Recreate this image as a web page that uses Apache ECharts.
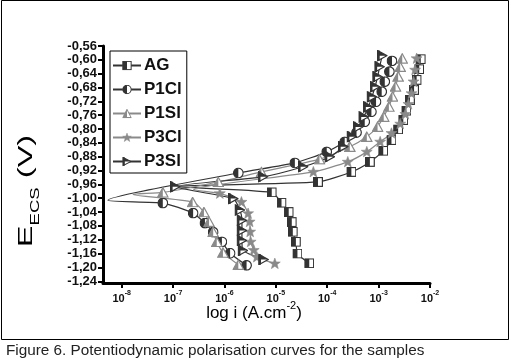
<!DOCTYPE html>
<html>
<head>
<meta charset="utf-8">
<script src="https://cdn.jsdelivr.net/npm/echarts@6/dist/echarts.min.js"></script>
<style>
  html, body { margin: 0; padding: 0; background: #fff; }
  #chart { width: 511px; height: 364px; }
</style>
</head>
<body>
<div id="chart"></div>
<script>
// log10(i) on x, E (V vs ECS) on y; cathodic branch bottom→top, then tip, then anodic bottom→top
const xTicks = [-8, -7, -6, -5, -4, -3, -2]
const yTicks = [-0.56, -0.60, -0.64, -0.68, -0.72, -0.76, -0.80, -0.84, -0.88, -0.92, -0.96,
  -1.00, -1.04, -1.08, -1.12, -1.16, -1.20, -1.24]

const agCath = [[-4.35, -1.188], [-4.58, -1.160], [-4.61, -1.126], [-4.67, -1.097], [-4.69, -1.069], [-4.75, -1.040], [-4.89, -1.013], [-5.08, -0.983]]
const agTip = [-7.0, -0.966]
const agAnod = [[-4.18, -0.953], [-3.53, -0.924], [-3.17, -0.895], [-2.91, -0.863], [-2.75, -0.832], [-2.62, -0.801], [-2.52, -0.774], [-2.46, -0.747], [-2.39, -0.716], [-2.31, -0.687], [-2.26, -0.658], [-2.21, -0.627], [-2.18, -0.598]]

const p1clCath = [[-5.57, -1.194], [-5.89, -1.159], [-6.05, -1.126], [-6.22, -1.098], [-6.38, -1.072], [-6.61, -1.043], [-7.20, -1.014]]
const p1clTip = [-8.27, -1.006]
const p1clAnod = [[-5.73, -0.927], [-4.63, -0.898], [-4.01, -0.866], [-3.66, -0.837], [-3.43, -0.810], [-3.27, -0.779], [-3.14, -0.750], [-3.05, -0.721], [-2.94, -0.692], [-2.88, -0.663], [-2.79, -0.634], [-2.74, -0.603]]

const p1slCath = [[-5.73, -1.192], [-6.03, -1.157], [-6.15, -1.126], [-6.22, -1.097], [-6.30, -1.068], [-6.40, -1.040], [-6.62, -1.011]]
const p1slTip = [-7.78, -0.989]
const p1slAnod = [[-7.20, -0.983], [-6.12, -0.953], [-5.28, -0.924], [-4.15, -0.887], [-3.56, -0.851], [-3.23, -0.822], [-3.02, -0.793], [-2.90, -0.764], [-2.80, -0.735], [-2.73, -0.706], [-2.67, -0.677], [-2.62, -0.648], [-2.58, -0.620], [-2.54, -0.596]]

const p3clCath = [[-5.02, -1.189], [-5.37, -1.170], [-5.43, -1.150], [-5.49, -1.126], [-5.50, -1.097], [-5.51, -1.068], [-5.54, -1.044], [-5.67, -1.011], [-6.09, -0.986]]
const p3clTip = [-6.6, -0.975]
const p3clAnod = [[-4.27, -0.924], [-3.60, -0.895], [-3.23, -0.866], [-2.97, -0.837], [-2.75, -0.812], [-2.58, -0.785], [-2.48, -0.757], [-2.42, -0.728], [-2.36, -0.697], [-2.32, -0.663], [-2.29, -0.629], [-2.26, -0.596]]

const p3slCath = [[-5.24, -1.177], [-5.64, -1.151], [-5.66, -1.122], [-5.66, -1.093], [-5.66, -1.064], [-5.70, -1.034], [-5.83, -1.001]]
const p3slTip = [-6.96, -0.967]
const p3slAnod = [[-5.25, -0.938], [-4.47, -0.909], [-3.95, -0.880], [-3.69, -0.851], [-3.52, -0.822], [-3.40, -0.794], [-3.29, -0.765], [-3.20, -0.736], [-3.13, -0.707], [-3.07, -0.678], [-3.02, -0.649], [-2.98, -0.620], [-2.93, -0.588]]

const dark = '#333'
const grey = '#8a8a8a'

// half filled markers as small svg images
function svgSymbol(w, h, body) {
  const svg = `<svg xmlns="http://www.w3.org/2000/svg" width="${w}" height="${h}" viewBox="0 0 ${w} ${h}">${body}</svg>`
  return 'image://data:image/svg+xml;charset=utf-8,' + encodeURIComponent(svg)
}
const symSquare = svgSymbol(10, 10,
  `<rect x="0.6" y="0.6" width="8.8" height="8.8" fill="#fff" stroke="${dark}" stroke-width="1.2"/><rect x="0.6" y="0.6" width="4.4" height="8.8" fill="${dark}"/>`)
const symCircle = svgSymbol(11, 11,
  `<circle cx="5.5" cy="5.5" r="4.8" fill="#fff" stroke="${dark}" stroke-width="1.2"/><path d="M5.5 0.7 A4.8 4.8 0 0 0 5.5 10.3 Z" fill="${dark}"/>`)
const symTriUp = svgSymbol(12, 11,
  `<polygon points="6,0.8 11.2,10.2 0.8,10.2" fill="#fff" stroke="${grey}" stroke-width="1.2"/><polygon points="6,0.8 6,10.2 0.8,10.2" fill="${grey}"/>`)
const symStar = svgSymbol(12, 12,
  `<polygon points="6,0.5 7.4,4.3 11.5,4.4 8.3,6.9 9.4,11 6,8.6 2.6,11 3.7,6.9 0.5,4.4 4.6,4.3" fill="${grey}" stroke="${grey}" stroke-width="0.6"/>`)
const symTriRight = svgSymbol(11, 12,
  `<polygon points="0.8,0.8 10.2,6 0.8,11.2" fill="#fff" stroke="${dark}" stroke-width="1.2"/><polygon points="0.8,0.8 10.2,6 0.8,6" fill="${dark}"/><rect x="0.8" y="0.8" width="2.2" height="10.4" fill="${dark}"/>`)

const samples = [
  { name: 'AG', cath: agCath, tip: agTip, anod: agAnod, tipMark: false, color: dark, symbol: symSquare, size: [10, 10] },
  { name: 'P1Cl', cath: p1clCath, tip: p1clTip, anod: p1clAnod, tipMark: false, color: dark, symbol: symCircle, size: [11, 11] },
  { name: 'P1Sl', cath: p1slCath, tip: p1slTip, anod: p1slAnod, tipMark: false, color: grey, symbol: symTriUp, size: [12, 11] },
  { name: 'P3Cl', cath: p3clCath, tip: p3clTip, anod: p3clAnod, tipMark: false, color: grey, symbol: symStar, size: [12, 12] },
  { name: 'P3Sl', cath: p3slCath, tip: p3slTip, anod: p3slAnod, tipMark: true, color: dark, symbol: symTriRight, size: [11, 12] },
]

const font = 'Liberation Sans'

const chart = echarts.init(document.getElementById('chart'), null, { renderer: 'canvas' })

chart.setOption({
  animation: false,
  backgroundColor: '#fff',
  grid: { left: 103, right: 81, top: 46, bottom: 81 },
  legend: {
    orient: 'vertical',
    left: 110,
    top: 51,
    padding: [6, 5, 3, 2],
    borderColor: '#000',
    borderWidth: 1,
    itemWidth: 28,
    itemHeight: 12,
    itemGap: 7,
    textStyle: { fontFamily: font, fontWeight: 'bold', fontSize: 17, color: '#111', padding: [0, 0, 0, -2] },
    data: samples.map(s => s.name),
  },
  xAxis: {
    type: 'value',
    min: -8.364,
    max: -2,
    axisLine: { lineStyle: { color: '#000', width: 3 } },
    axisTick: { customValues: xTicks, length: 5, lineStyle: { color: '#000', width: 2 } },
    axisLabel: {
      customValues: xTicks,
      margin: 7,
      formatter: v => '{b|10}{s|' + v + '}',
      rich: {
        b: { fontFamily: font, fontWeight: 'bold', fontSize: 11, color: '#111', lineHeight: 14, verticalAlign: 'bottom' },
        s: { fontFamily: font, fontWeight: 'bold', fontSize: 7, color: '#111', lineHeight: 14, verticalAlign: 'top' },
      },
    },
    splitLine: { show: false },
  },
  yAxis: {
    type: 'value',
    min: -1.245,
    max: -0.56,
    axisLine: { lineStyle: { color: '#000', width: 3 } },
    axisTick: { customValues: yTicks, length: 5, lineStyle: { color: '#000', width: 2 } },
    axisLabel: {
      customValues: yTicks,
      margin: 6,
      fontFamily: font,
      fontWeight: 'bold',
      fontSize: 13,
      color: '#111',
      formatter: v => v.toFixed(2).replace('.', ','),
    },
    splitLine: { show: false },
  },
  graphic: [
    { type: 'rect', shape: { x: 1.5, y: 0.5, width: 507, height: 339 }, style: { fill: null, stroke: '#000', lineWidth: 1 }, silent: true },
    {
      type: 'text', x: 29, y: 191, rotation: Math.PI / 2, scaleX: 1.55,
      style: {
        text: '{e|E}{s|ECS}{v| (V)}', align: 'center', verticalAlign: 'middle',
        rich: {
          e: { fontFamily: font, fontSize: 21, color: '#111', lineHeight: 26, verticalAlign: 'top' },
          s: { fontFamily: font, fontSize: 12, color: '#111', lineHeight: 26, verticalAlign: 'bottom' },
          v: { fontFamily: font, fontSize: 21, color: '#111', lineHeight: 26, verticalAlign: 'top' },
        },
      },
    },
    {
      type: 'text', x: 254, y: 311,
      style: {
        text: '{t|log i (A.cm}{s|-2}{t|)}', align: 'center', verticalAlign: 'middle',
        rich: {
          t: { fontFamily: font, fontSize: 17, color: '#111', lineHeight: 22, verticalAlign: 'bottom' },
          s: { fontFamily: font, fontSize: 11, color: '#111', lineHeight: 22, verticalAlign: 'top' },
        },
      },
    },
    {
      type: 'text', x: 6, y: 351,
      style: { text: 'Figure 6. Potentiodynamic polarisation curves for the samples', fontFamily: font, fontSize: 15.3, fill: '#222', verticalAlign: 'middle' },
    },
  ],
  series: samples.map(s => ({
    name: s.name,
    type: 'line',
    smooth: 0.2,
    symbol: s.symbol,
    symbolSize: s.size,
    lineStyle: { color: s.color, width: 1.2 },
    itemStyle: { color: s.color },
    data: [
      ...s.cath,
      s.tipMark ? s.tip : { value: s.tip, symbol: 'none' },
      ...s.anod,
    ],
  })),
})
</script>
</body>
</html>
